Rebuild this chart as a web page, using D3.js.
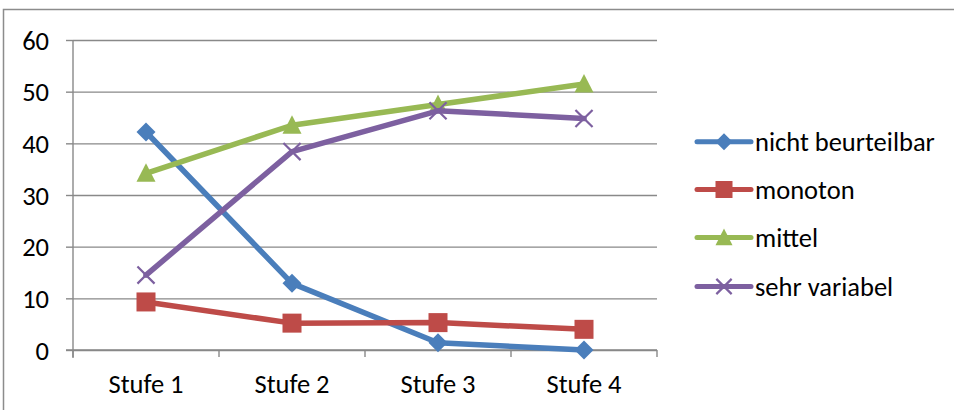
<!DOCTYPE html>
<html>
<head>
<meta charset="utf-8">
<script src="https://cdn.jsdelivr.net/npm/d3@7"></script>
<style>
  html, body { margin: 0; padding: 0; background: #fff; }
  svg { display: block; }
  text { font-family: Carlito, Calibri, Lato, "Open Sans", sans-serif; fill: #000; }
</style>
</head>
<body>
<svg id="chart" width="954" height="410"></svg>
<script>
const categories = ["Stufe 1", "Stufe 2", "Stufe 3", "Stufe 4"];
const seriesNames = ["nicht beurteilbar", "monoton", "mittel", "sehr variabel"];
const nichtBeurteilbar = [42.2, 12.9, 1.4, 0];
const monoton = [9.3, 5.2, 5.3, 4.0];
const mittel = [34.2, 43.5, 47.5, 51.5];
const sehrVariabel = [14.5, 38.4, 46.3, 44.8];
const yTicks = [0, 10, 20, 30, 40, 50, 60];
const colors = ["#4A7EBB", "#BE4B48", "#98B954", "#7D60A0"];
const markers = ["diamond", "square", "triangle", "x"];

const seriesValues = [nichtBeurteilbar, monoton, mittel, sehrVariabel];
const series = seriesNames.map((n, i) => ({ name: n, values: seriesValues[i], color: colors[i], marker: markers[i] }));

const svg = d3.select("#chart");
const plot = { left: 73, right: 657, top: 40, bottom: 350 };
const fontSize = 26.5;
const fontFam = "Carlito, Calibri, Lato, 'Open Sans', sans-serif";

// outer frame
svg.append("rect").attr("x", 3.5).attr("y", 9.5).attr("width", 1000).attr("height", 500)
  .attr("fill", "none").attr("stroke", "#8c8c8c").attr("stroke-width", 1.5);

const x = d3.scaleBand().domain(categories).range([plot.left, plot.right]).padding(0);
const y = d3.scaleLinear().domain([0, 60]).range([plot.bottom, plot.top]);

// gridlines
const grid = svg.append("g").attr("transform", `translate(${plot.left},0)`)
  .call(d3.axisLeft(y).tickValues(yTicks).tickSize(-(plot.right - plot.left)).tickFormat(""));
grid.select(".domain").remove();
grid.selectAll("line").attr("stroke", "#898989").attr("stroke-width", 1.4);

// y axis
const yAxis = svg.append("g").attr("transform", `translate(${plot.left},0)`)
  .call(d3.axisLeft(y).tickValues(yTicks).tickSize(7).tickPadding(17).tickFormat(d3.format("d")));
yAxis.select(".domain").attr("stroke", "#898989").attr("stroke-width", 1.4)
  .attr("d", `M0,${plot.top}V${plot.bottom + 8}`);
yAxis.selectAll("line").attr("stroke", "#898989").attr("stroke-width", 1.4);
yAxis.selectAll("text").attr("font-size", fontSize).attr("dy", "0.34em")
  .style("font-family", fontFam);

// x axis
const xAxis = svg.append("g").attr("transform", `translate(0,${plot.bottom})`)
  .call(d3.axisBottom(x).tickSize(0).tickPadding(0));
xAxis.select(".domain").attr("stroke", "#898989").attr("stroke-width", 1.4)
  .attr("d", `M${plot.left - 7},0H${plot.right}`);
xAxis.selectAll("text").attr("font-size", fontSize).attr("y", 43).attr("dy", 0)
  .style("font-family", fontFam);
// category boundary ticks
const bounds = categories.map(c => x(c)).concat([x(categories[categories.length - 1]) + x.bandwidth()]);
svg.append("g").selectAll("line").data(bounds).join("line")
  .attr("x1", d => d).attr("x2", d => d)
  .attr("y1", plot.bottom).attr("y2", plot.bottom + 7)
  .attr("stroke", "#898989").attr("stroke-width", 1.4);

function drawMarker(g, type, cx, cy, color, s) {
  if (type === "diamond") {
    g.append("path").attr("d", `M${cx},${cy - s / 2}L${cx + s / 2},${cy}L${cx},${cy + s / 2}L${cx - s / 2},${cy}Z`).attr("fill", color);
  } else if (type === "square") {
    const h = s * 0.5;
    g.append("rect").attr("x", cx - h).attr("y", cy - h).attr("width", 2 * h).attr("height", 2 * h).attr("fill", color);
  } else if (type === "triangle") {
    const h = s * 0.5;
    g.append("path").attr("d", `M${cx},${cy - h * 1.05}L${cx + h},${cy + h * 0.9}L${cx - h},${cy + h * 0.9}Z`).attr("fill", color);
  } else if (type === "x") {
    const h = s * 0.45;
    g.append("path").attr("d", `M${cx - h},${cy - h}L${cx + h},${cy + h}M${cx - h},${cy + h}L${cx + h},${cy - h}`)
      .attr("stroke", color).attr("stroke-width", 2.2).attr("fill", "none");
  }
}

const line = d3.line().x((d, i) => x(categories[i]) + x.bandwidth() / 2).y(d => y(d));
series.forEach(s => {
  const g = svg.append("g");
  g.append("path").datum(s.values).attr("d", line).attr("fill", "none")
    .attr("stroke", s.color).attr("stroke-width", 5.5).attr("stroke-linejoin", "round").attr("stroke-linecap", "round");
  s.values.forEach((v, i) => drawMarker(g, s.marker, x(categories[i]) + x.bandwidth() / 2, y(v), s.color, 19));
});

// legend
const legendRows = [141.7, 189.5, 237.5, 286.5];
series.forEach((s, i) => {
  const g = svg.append("g");
  const cy = legendRows[i];
  g.append("line").attr("x1", 697).attr("x2", 751).attr("y1", cy).attr("y2", cy)
    .attr("stroke", s.color).attr("stroke-width", 5).attr("stroke-linecap", "round");
  drawMarker(g, s.marker, 724, cy, s.color, 17);
  g.append("text").attr("x", 755).attr("y", cy).attr("dy", "0.34em").attr("font-size", fontSize).text(s.name);
});
</script>
</body>
</html>
